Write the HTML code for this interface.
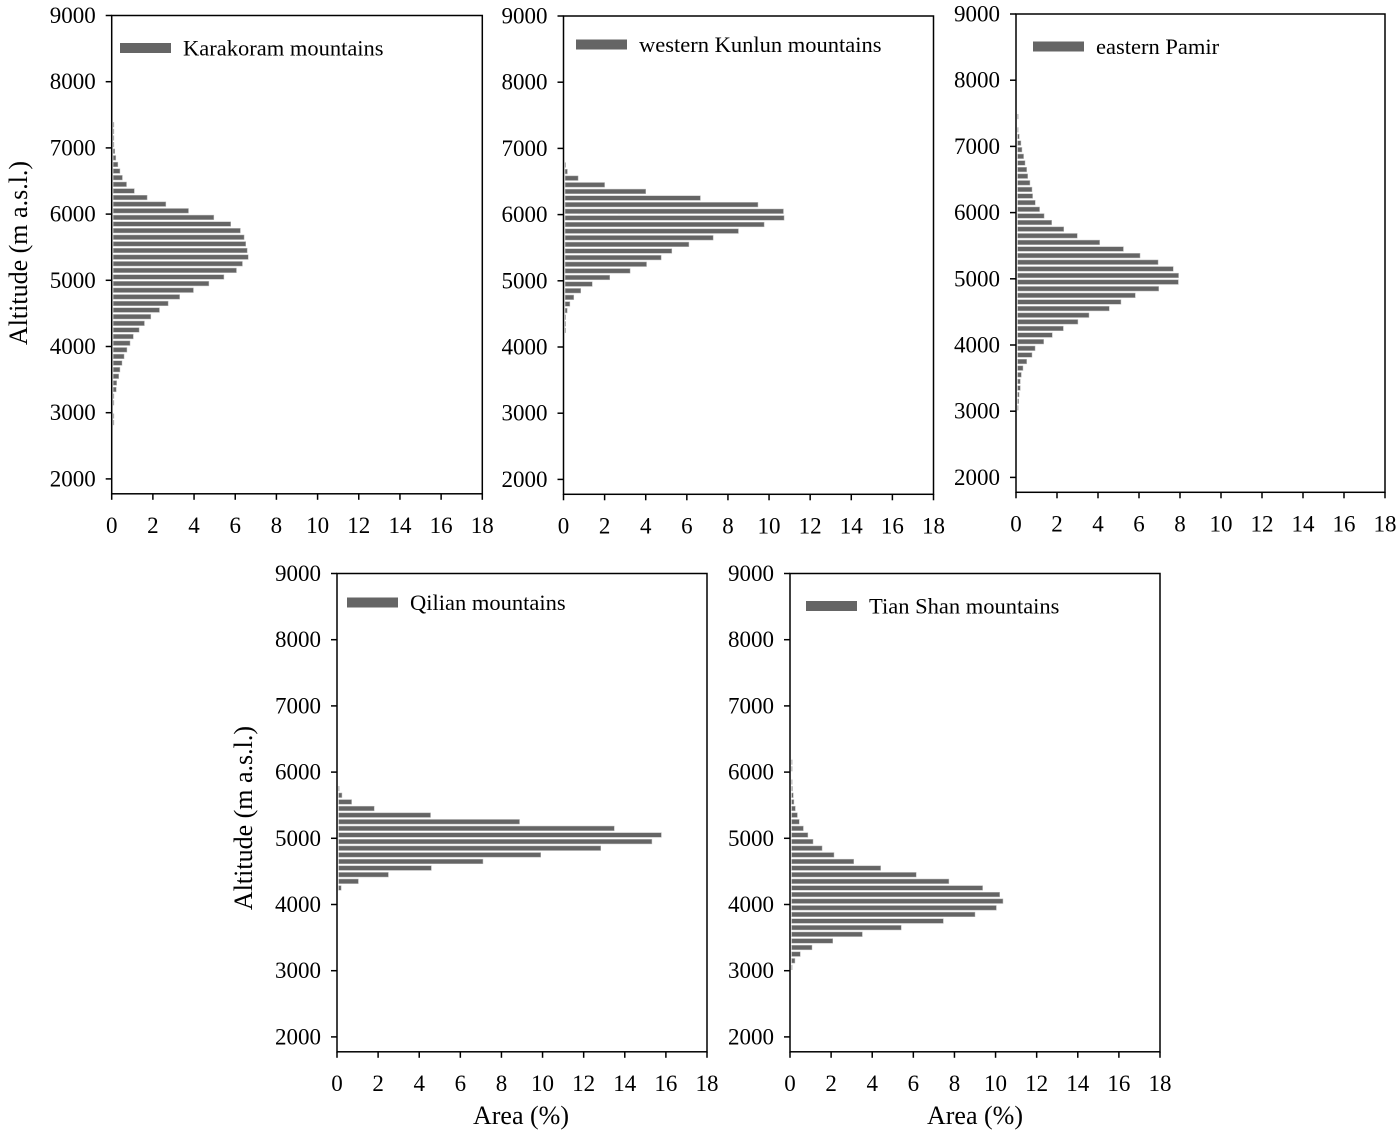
<!DOCTYPE html>
<html><head><meta charset="utf-8"><style>
html,body{margin:0;padding:0;background:#fff;}
svg{display:block;font-family:"Liberation Serif",serif;}
</style></head><body>
<svg id="fig" width="1400" height="1133" viewBox="0 0 1400 1133" xmlns="http://www.w3.org/2000/svg"></svg>
<script>
const xTicks=[0,2,4,6,8,10,12,14,16,18];
const yTicks=[2000,3000,4000,5000,6000,7000,8000,9000];
const karAlt=[7350,7250,7150,7050,6950,6850,6750,6650,6550,6450,6350,6250,6150,6050,5950,5850,5750,5650,5550,5450,5350,5250,5150,5050,4950,4850,4750,4650,4550,4450,4350,4250,4150,4050,3950,3850,3750,3650,3550,3450,3350,3250,3150,2950,2850];
const karVal=[0.1,0.05,0.05,0.05,0.15,0.2,0.3,0.4,0.52,0.72,1.1,1.72,2.63,3.73,4.96,5.78,6.25,6.43,6.51,6.58,6.63,6.35,6.06,5.45,4.72,3.97,3.3,2.74,2.32,1.9,1.59,1.33,1.05,0.89,0.74,0.6,0.5,0.4,0.34,0.24,0.22,0.1,0.1,0.05,0.05];
const kunAlt=[6750,6650,6550,6450,6350,6250,6150,6050,5950,5850,5750,5650,5550,5450,5350,5250,5150,5050,4950,4850,4750,4650,4550,4450,4350,4250];
const kunVal=[0.05,0.19,0.71,2.0,4.0,6.66,9.46,10.7,10.73,9.76,8.51,7.28,6.1,5.27,4.75,4.04,3.24,2.25,1.4,0.84,0.5,0.31,0.18,0.08,0.03,0.05];
const pamAlt=[7450,7250,7150,7050,6950,6850,6750,6650,6550,6450,6350,6250,6150,6050,5950,5850,5750,5650,5550,5450,5350,5250,5150,5050,4950,4850,4750,4650,4550,4450,4350,4250,4150,4050,3950,3850,3750,3650,3550,3450,3350,3250,3150,3050];
const pamVal=[0.05,0.03,0.16,0.24,0.29,0.37,0.44,0.52,0.57,0.68,0.78,0.81,0.94,1.15,1.37,1.74,2.33,2.99,4.08,5.24,6.05,6.93,7.67,7.93,7.92,6.96,5.82,5.12,4.55,3.56,3.02,2.31,1.77,1.35,0.93,0.78,0.52,0.34,0.26,0.21,0.21,0.15,0.13,0.05];
const qilAlt=[5750,5650,5550,5450,5350,5250,5150,5050,4950,4850,4750,4650,4550,4450,4350,4250];
const qilVal=[0.03,0.24,0.71,1.81,4.55,8.88,13.49,15.78,15.32,12.83,9.91,7.1,4.59,2.5,1.04,0.2];
const tiaAlt=[6150,6050,5850,5750,5650,5550,5450,5350,5250,5150,5050,4950,4850,4750,4650,4550,4450,4350,4250,4150,4050,3950,3850,3750,3650,3550,3450,3350,3250,3150,3050];
const tiaVal=[0.03,0.02,0.1,0.12,0.16,0.19,0.26,0.36,0.45,0.65,0.87,1.12,1.56,2.14,3.1,4.41,6.14,7.73,9.37,10.2,10.36,10.04,9.0,7.46,5.41,3.52,2.08,1.07,0.5,0.24,0.06];

const NS="http://www.w3.org/2000/svg";
const svg=document.getElementById('fig');
function mk(tag,attrs,parent){const e=document.createElementNS(NS,tag);for(const k in attrs)e.setAttribute(k,attrs[k]);(parent||svg).appendChild(e);return e;}

const panels=[
 {id:'karakoram',name:'Karakoram mountains',alt:karAlt,val:karVal,L:111.7,R:482.3,T:15.5,legX:120,legY:48},
 {id:'western-kunlun',name:'western Kunlun mountains',alt:kunAlt,val:kunVal,L:563.5,R:933.5,T:16,legX:576,legY:44.5},
 {id:'eastern-pamir',name:'eastern Pamir',alt:pamAlt,val:pamVal,L:1016,R:1385,T:14,legX:1033,legY:46.5},
 {id:'qilian',name:'Qilian mountains',alt:qilAlt,val:qilVal,L:337,R:707,T:573.5,legX:347,legY:602.5},
 {id:'tian-shan',name:'Tian Shan mountains',alt:tiaAlt,val:tiaVal,L:790,R:1160,T:573.5,legX:806,legY:606}
];
const PX_PER_KM=66.2;
panels.forEach(p=>{
  const g=mk('g',{});
  
  
  const xs=v=>p.L+(v-0)/18*(p.R-p.L);
  const ys=a=>p.T+(9000-a)/1000*PX_PER_KM;
  const B=ys(1775);
  const bg=mk('g',{},g);
  
  
  p.alt.forEach((a,i)=>{
    const w=Math.max(0.6,xs(p.val[i])-xs(0)-1.6);
    const r=mk('rect',{x:xs(0)+1.6,y:ys(a)-2.3,width:w,height:4.6,fill:'#656565',stroke:'#b8b8b8','stroke-width':0.5},bg);
    
    
  });
  const fr=mk('rect',{x:p.L,y:p.T,width:p.R-p.L,height:B-p.T,fill:'none',stroke:'#000','stroke-width':1.5},g);
  
  
  const yg=mk('g',{},g);
  
  
  yTicks.forEach(t=>{
    const y=ys(t);
    mk('line',{x1:p.L-6,x2:p.L,y1:y,y2:y,stroke:'#000','stroke-width':1.5},yg);
    const tx=mk('text',{x:p.L-16,y:y+7.5,'text-anchor':'end','font-size':23},yg);
    
    
    tx.textContent=t;
  });
  const xg=mk('g',{},g);
  
  
  xTicks.forEach(t=>{
    const x=xs(t);
    mk('line',{x1:x,x2:x,y1:B,y2:B+6,stroke:'#000','stroke-width':1.5},xg);
    const tx=mk('text',{x:x,y:B+39,'text-anchor':'middle','font-size':23},xg);
    
    
    tx.textContent=t;
  });
  const lg=mk('g',{},g);
  
  
  mk('rect',{x:p.legX,y:p.legY-5,width:51,height:10,fill:'#656565'},lg);
  const lt=mk('text',{x:p.legX+63,y:p.legY+7.5,'font-size':22.5},lg);
  lt.textContent=p.name;
});
[[18,253],[243,818]].forEach(([x,y])=>{
  const t=mk('text',{x:x,y:y,'text-anchor':'middle','font-size':26,transform:`rotate(-90 ${x} ${y})`,dy:9});
  
  
  t.textContent='Altitude (m a.s.l.)';
});
[[521,1124],[975,1124]].forEach(([x,y])=>{
  const t=mk('text',{x:x,y:y,'text-anchor':'middle','font-size':26});
  
  
  t.textContent='Area (%)';
});
</script>
</body></html>
